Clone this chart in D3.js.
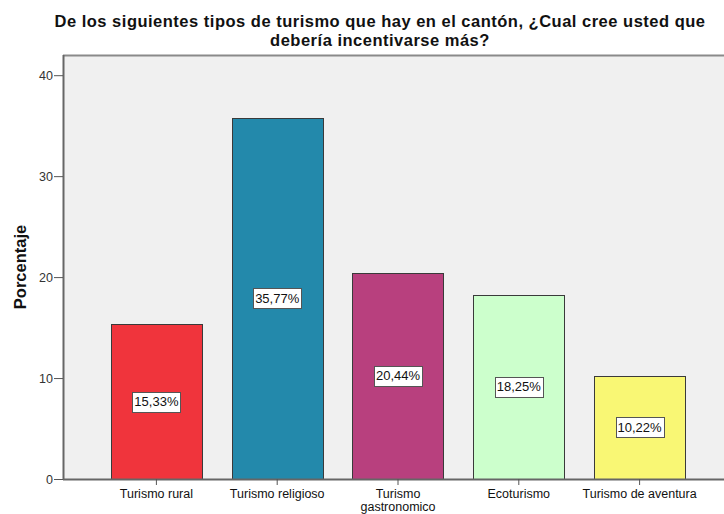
<!DOCTYPE html>
<html><head><meta charset="utf-8">
<script src="https://cdn.jsdelivr.net/npm/d3@7"></script>
<style>body{margin:0;background:#fff}svg{display:block}</style>
</head><body>
<svg id="c" width="724" height="514"></svg>
<script>
const categories = ["Turismo rural","Turismo religioso","Turismo gastronomico","Ecoturismo","Turismo de aventura"];
const categoryLines = [["Turismo rural"],["Turismo religioso"],["Turismo","gastronomico"],["Ecoturismo"],["Turismo de aventura"]];
const values = [15.33, 35.77, 20.44, 18.25, 10.22];
const valueLabels = ["15,33%","35,77%","20,44%","18,25%","10,22%"];
const colors = ["#f0343c","#2389ab","#b8407e","#ccffcc","#f9f774"];
const yTicks = [0,10,20,30,40];
const titleLines = ["De los siguientes tipos de turismo que hay en el cantón, ¿Cual cree usted que","debería incentivarse más?"];
const yTitle = "Porcentaje";

const svg = d3.select("#c");
const font = "'Liberation Sans', Arial, sans-serif";
const pLeft = 63, pRight = 724, pTop = 55, pBottom = 479;

svg.append("rect").attr("x",pLeft).attr("y",pTop).attr("width",pRight-pLeft).attr("height",pBottom-pTop).attr("fill","#f0f0f0");
svg.append("line").attr("x1",pLeft).attr("x2",pRight).attr("y1",pTop+0.5).attr("y2",pTop+0.5).attr("stroke","#8a8a8a").attr("stroke-width",2);

const y = d3.scaleLinear().domain([0,42]).range([pBottom, pTop]);
const x = d3.scaleBand().domain(categories).range([96,700]).paddingInner(0.245).paddingOuter(0.1225);

// bars
const g = svg.append("g");
g.selectAll("rect.bar").data(categories).join("rect")
  .attr("class","bar")
  .attr("x",d=>Math.round(x(d))+0.5)
  .attr("y",(d,i)=>Math.round(y(values[i]))+0.5)
  .attr("width",Math.round(x.bandwidth()))
  .attr("height",(d,i)=>pBottom-Math.round(y(values[i])))
  .attr("fill",(d,i)=>colors[i])
  .attr("stroke","#3a3a3a").attr("stroke-width",1);

// value labels
categories.forEach((c,i)=>{
  const cx = x(c)+x.bandwidth()/2;
  const cy = (y(values[i])+pBottom)/2;
  const t = g.append("text").attr("x",cx).attr("y",cy).attr("text-anchor","middle").attr("dominant-baseline","central")
    .attr("font-family",font).attr("font-size",13).attr("fill","#111").text(valueLabels[i]);
  const bb = t.node().getBBox();
  g.append("rect").attr("x",Math.round(bb.x-2)+0.5).attr("y",Math.round(cy-10)+0.5)
    .attr("width",Math.round(bb.width+3)).attr("height",20)
    .attr("fill","#fff").attr("stroke","#555").attr("stroke-width",1);
  t.raise();
});

// y axis
const ya = svg.append("g").attr("transform",`translate(${pLeft},0)`)
  .call(d3.axisLeft(y).tickValues(yTicks).tickSize(9).tickPadding(1).tickFormat(d3.format("d")));
ya.select(".domain").attr("d",`M0.5,${pTop}V${pBottom}`).attr("stroke","#666").attr("stroke-width",2);
ya.selectAll(".tick line").attr("stroke","#555");
ya.selectAll(".tick text").attr("font-family",font).attr("font-size",12.5).attr("fill","#333");

// x axis
const xa = svg.append("g").attr("transform",`translate(0,${pBottom})`)
  .call(d3.axisBottom(x).tickSize(6).tickFormat(""));
xa.select(".domain").attr("d",`M${pLeft},0.5H${pRight}`).attr("stroke","#666").attr("stroke-width",2);
xa.selectAll(".tick line").attr("stroke","#555");
xa.selectAll(".tick").each(function(d,i){
  const t = d3.select(this).append("text").attr("y",19).attr("text-anchor","middle")
    .attr("font-family",font).attr("font-size",12.5).attr("fill","#111");
  categoryLines[i].forEach((l,j)=>t.append("tspan").attr("x",0).attr("dy",j?13:0).text(l));
});

// y title
svg.append("text").attr("transform",`translate(26,267) rotate(-90)`)
  .attr("text-anchor","middle").attr("font-family",font).attr("font-size",16.5).attr("font-weight","bold")
  .attr("fill","#111").text(yTitle);

// title
titleLines.forEach((l,i)=>{
  svg.append("text").attr("x",380).attr("y",27+i*19).attr("text-anchor","middle")
    .attr("font-family",font).attr("font-size",16.5).attr("letter-spacing",0.5).attr("font-weight","bold")
    .attr("fill","#111").text(l);
});
</script>
</body></html>
